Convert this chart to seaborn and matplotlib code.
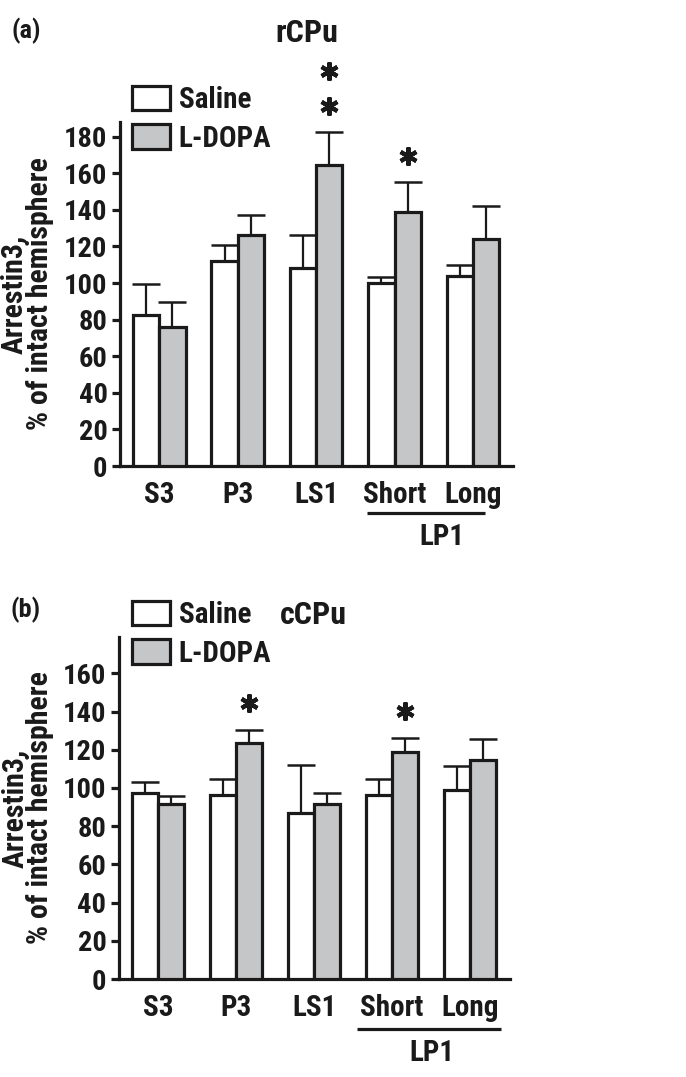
import numpy as np
import pandas as pd
import seaborn as sns
import matplotlib.pyplot as plt
from matplotlib.patches import Patch
from matplotlib import transforms

# values (mean and upper SEM)
regions = ["S3", "P3", "LS1", "Short", "Long"]
treatments = ["Saline", "L-DOPA"]

rcpu_saline = [82.5, 112, 108, 100, 104]
rcpu_saline_err = [17, 9, 18, 3.5, 6]
rcpu_ldopa = [76, 126, 164.5, 139, 124]
rcpu_ldopa_err = [13.5, 11, 18, 16, 18]
rcpu_stars = [0, 0, 2, 1, 0]

ccpu_saline = [97.5, 96.5, 87, 96.5, 98.7]
ccpu_saline_err = [5.6, 8, 25, 8, 13]
ccpu_ldopa = [91.4, 123.5, 91.8, 119, 114.8]
ccpu_ldopa_err = [4.4, 7, 5.7, 7.3, 10.7]
ccpu_stars = [0, 1, 0, 1, 0]

bar_colors = ["white", "#c4c6c7"]
INK = "#1a1a1a"

sns.set_theme(style="ticks")
plt.rcParams['font.family'] = ['Roboto Condensed', 'DejaVu Sans']
plt.rcParams['font.weight'] = 'bold'
plt.rcParams['axes.labelweight'] = 'bold'

FS = 20.5


def draw_panel(fig, rect, saline, saline_err, ldopa, ldopa_err, stars, yticks, ytop,
               title, title_xy, letter_xy, legend_xy, lp1_span, lp1_x, label_x):
    ax = fig.add_axes(rect)
    df = pd.DataFrame({
        "region": regions * 2,
        "treatment": [treatments[0]] * 5 + [treatments[1]] * 5,
        "value": list(saline) + list(ldopa),
    })
    sns.barplot(data=df, x="region", y="value", hue="treatment", hue_order=treatments,
                palette=bar_colors, edgecolor=INK, linewidth=2.3, width=0.67,
                errorbar=None, legend=False, ax=ax, zorder=3)

    errs = [saline_err, ldopa_err]
    bar_conts = list(ax.containers)
    for k, cont in enumerate(bar_conts):
        xs = [p.get_x() + p.get_width() / 2 for p in cont.patches]
        hs = [p.get_height() for p in cont.patches]
        ax.errorbar(xs, hs, yerr=[np.zeros(len(hs)), errs[k]], fmt="none",
                    ecolor=INK, elinewidth=1.6, capsize=10, capthick=1.8, zorder=2)
        if k == 1:
            for x, h, e, n in zip(xs, hs, errs[k], stars):
                for j in range(n):
                    tr = transforms.offset_copy(ax.transData, fig=fig, x=0, y=19 + 25 * j,
                                                units="points")
                    ax.plot([x], [h + e], marker=(6, 2, 0), markersize=13, mew=3,
                            color=INK, transform=tr, clip_on=False)

    ax.set_xlim(-0.5, 4.51)
    ax.set_ylim(0, ytop)
    ax.set_yticks(yticks)
    ax.set_xlabel("")
    ax.set_ylabel("Arrestin3,\n% of intact hemisphere", fontsize=21.5, fontweight="bold",
                  linespacing=0.9, color=INK)
    ax.yaxis.set_label_coords(label_x, 0.5)
    sns.despine(ax=ax)
    for s in ["left", "bottom"]:
        ax.spines[s].set_linewidth(2.3)
        ax.spines[s].set_color(INK)
    ax.tick_params(axis="y", length=6, width=2.3, pad=3, labelsize=FS, colors=INK)
    ax.tick_params(axis="x", length=0, pad=11, labelsize=21, colors=INK)
    for lab in ax.get_xticklabels() + ax.get_yticklabels():
        lab.set_fontweight("bold")

    # LP1 group bar under Short/Long
    xt = ax.get_xaxis_transform()
    ax.plot(lp1_span[0], [lp1_span[1]] * 2, color=INK, lw=2.3,
            transform=xt, clip_on=False, solid_capstyle="butt")
    ax.text(lp1_x, lp1_span[2], "LP1", transform=xt, ha="center", va="center",
            fontsize=21, fontweight="bold", color=INK)

    fig.text(title_xy[0], title_xy[1], title, ha="center", va="center",
             fontsize=23, fontweight="bold", color=INK)
    fig.text(letter_xy[0], letter_xy[1], letter_xy[2], ha="center", va="center",
             fontsize=19, fontweight="bold", color=INK)

    handles = [Patch(facecolor=c, edgecolor=INK, linewidth=2.3) for c in bar_colors]
    leg = ax.legend(handles, treatments, loc="upper left", bbox_to_anchor=legend_xy,
                    bbox_transform=fig.transFigure, frameon=False,
                    handlelength=1.3, handleheight=0.9, handletextpad=0.3,
                    labelspacing=0.35, borderpad=0, borderaxespad=0,
                    prop={"weight": "bold", "size": 21})
    for t in leg.get_texts():
        t.set_color(INK)
    return ax


fig = plt.figure(figsize=(6.86, 10.77), dpi=100)
W, H = 686, 1077

draw_panel(fig, [120 / W, 1 - 466 / H, 393 / W, 344 / H],
           rcpu_saline, rcpu_saline_err, rcpu_ldopa, rcpu_ldopa_err, rcpu_stars,
           list(range(0, 181, 20)), 188, "rCPu",
           (307 / W, 1 - 33 / H), (26 / W, 1 - 31 / H, "(a)"),
           (132 / W, 1 - 86 / H), ([2.65, 4.15], -0.137, -0.206), 3.6, -0.168)

draw_panel(fig, [119 / W, 1 - 979 / H, 391 / W, 342 / H],
           ccpu_saline, ccpu_saline_err, ccpu_ldopa, ccpu_ldopa_err, ccpu_stars,
           list(range(0, 161, 20)), 179, "cCPu",
           (313 / W, 1 - 615 / H), (26 / W, 1 - 610 / H, "(b)"),
           (132 / W, 1 - 601 / H), ([2.55, 4.39], -0.146, -0.216), 3.51, -0.166)

fig.savefig("out.png", dpi=100)
